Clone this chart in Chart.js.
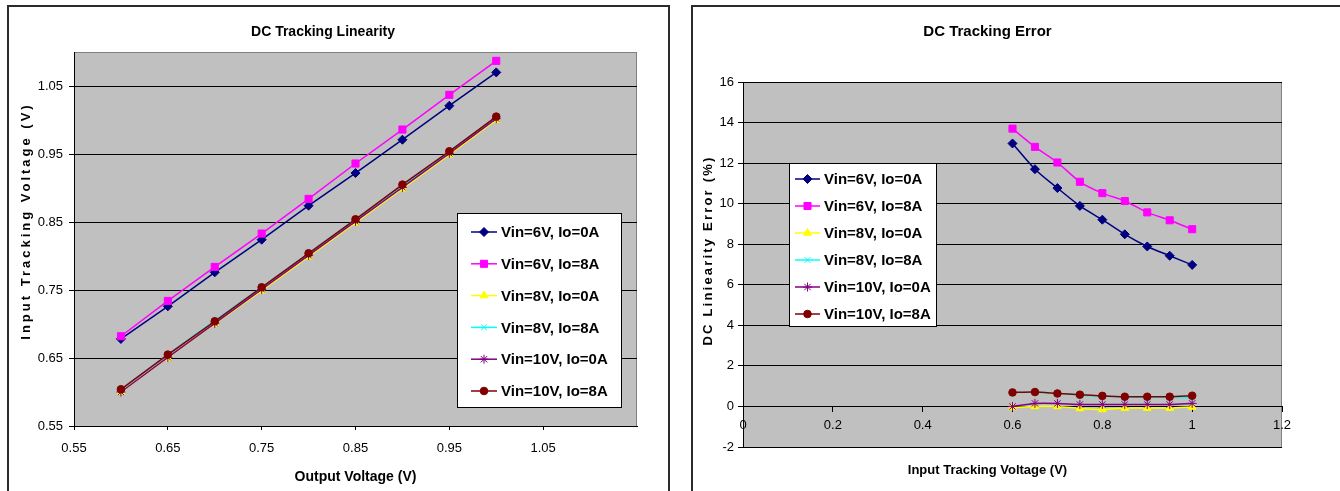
<!DOCTYPE html>
<html lang="en">
<head>
  <meta charset="UTF-8" />
  <title>DC Tracking</title>
  <style>
    body {
      margin: 0;
      background: #fff;
      width: 1340px;
      height: 491px;
      overflow: hidden;
      position: relative;
      font-family: "Liberation Sans", Arial, sans-serif;
    }
    .frame {
      position: absolute;
      border: 2px solid #2b2b2b;
      box-sizing: border-box;
    }
    #frameL { left: 7px; top: 5px; width: 663px; height: 520px; }
    #frameR { left: 691px; top: 5px; width: 700px; height: 520px; }
    canvas { position: absolute; }
    #linChart { left: 9px; top: 7px; }
    #errChart { left: 693px; top: 7px; }
  </style>
</head>
<body>
  <div class="frame" id="frameL"></div>
  <div class="frame" id="frameR"></div>
  <canvas id="linChart" width="658" height="484"></canvas>
  <canvas id="errChart" width="647" height="484"></canvas>

  <script src="https://cdn.jsdelivr.net/npm/chart.js"></script>
  <script>
    // data
    const trackV = [0.6, 0.65, 0.7, 0.75, 0.8, 0.85, 0.9, 0.95, 1.0];
    const seriesNames = ['Vin=6V, Io=0A', 'Vin=6V, Io=8A', 'Vin=8V, Io=0A',
                         'Vin=8V, Io=8A', 'Vin=10V, Io=0A', 'Vin=10V, Io=8A'];

    // DC Tracking Linearity - input tracking voltage (V)
    const lin6V0A  = [0.678, 0.726, 0.776, 0.824, 0.874, 0.922, 0.971, 1.021, 1.070];
    const lin6V8A  = [0.682, 0.734, 0.784, 0.833, 0.884, 0.936, 0.986, 1.037, 1.087];
    const lin8V0A  = [0.600, 0.650, 0.700, 0.749, 0.799, 0.849, 0.899, 0.949, 1.000];
    const lin8V8A  = [0.604, 0.655, 0.705, 0.754, 0.804, 0.854, 0.904, 0.954, 1.004];
    const lin10V0A = [0.600, 0.651, 0.701, 0.751, 0.801, 0.851, 0.901, 0.951, 1.002];
    const lin10V8A = [0.604, 0.655, 0.704, 0.754, 0.804, 0.854, 0.905, 0.954, 1.005];

    // DC Tracking Error (%)
    const err6V0A  = [12.97, 11.70, 10.77, 9.89, 9.21, 8.49, 7.89, 7.43, 6.98];
    const err6V8A  = [13.70, 12.80, 12.03, 11.08, 10.52, 10.13, 9.57, 9.18, 8.74];
    const err8V0A  = [-0.05, 0.0, 0.0, -0.1, -0.15, -0.08, -0.08, -0.08, -0.03];
    const err8V8A  = [0.70, 0.70, 0.65, 0.55, 0.50, 0.45, 0.45, 0.45, 0.43];
    const err10V0A = [0.0, 0.15, 0.15, 0.1, 0.1, 0.1, 0.1, 0.1, 0.15];
    const err10V8A = [0.69, 0.71, 0.64, 0.58, 0.52, 0.48, 0.48, 0.48, 0.53];

    const linYTicks = [0.55, 0.65, 0.75, 0.85, 0.95, 1.05];
    const linXTicks = [0.55, 0.65, 0.75, 0.85, 0.95, 1.05];
    const errYTicks = [-2, 0, 2, 4, 6, 8, 10, 12, 14, 16];
    const errXTicks = [0, 0.2, 0.4, 0.6, 0.8, 1, 1.2];

    const seriesStyle = [
      { color: '#000080', marker: 'rectRot',  r: 4.5 },
      { color: '#FF00FF', marker: 'rect',     r: 5 },
      { color: '#FFFF00', marker: 'triangle', r: 4.5 },
      { color: '#00FFFF', marker: 'crossRot', r: 4 },
      { color: '#800080', marker: 'star',     r: 4.5 },
      { color: '#800000', marker: 'circle',   r: 3.8 }
    ];

    Chart.defaults.font.family = '"Liberation Sans", Arial, sans-serif';
    Chart.defaults.color = '#000';

    function makeSets(series, tension) {
      return series.map((arr, i) => ({
        label: seriesNames[i],
        data: arr.map((v, k) => ({ x: trackV[k], y: v })),
        borderColor: seriesStyle[i].color,
        backgroundColor: seriesStyle[i].color,
        pointBackgroundColor: seriesStyle[i].color,
        pointBorderColor: seriesStyle[i].color,
        pointStyle: seriesStyle[i].marker,
        pointRadius: seriesStyle[i].r,
        pointBorderWidth: 1,
        borderWidth: 1.5,
        tension: tension,
        order: series.length - i
      }));
    }

    // grey plot area like the spreadsheet chart
    const plotBg = {
      id: 'plotBg',
      beforeDraw(chart) {
        const a = chart.chartArea, ctx = chart.ctx;
        ctx.save();
        ctx.fillStyle = '#C0C0C0';
        ctx.fillRect(a.left, a.top, a.right - a.left, a.bottom - a.top);
        ctx.strokeStyle = '#808080';
        ctx.lineWidth = 1;
        ctx.strokeRect(a.left + 0.5, a.top + 0.5, a.right - a.left - 1, a.bottom - a.top);
        ctx.restore();
      }
    };

    // legend box sitting inside the plot
    const boxLegend = {
      id: 'boxLegend',
      afterDraw(chart, args, o) {
        const ctx = chart.ctx;
        ctx.save();
        ctx.fillStyle = '#fff';
        ctx.fillRect(o.x, o.y, o.w, o.h);
        ctx.strokeStyle = '#000';
        ctx.lineWidth = 1;
        ctx.strokeRect(o.x + 0.5, o.y + 0.5, o.w, o.h);
        ctx.font = 'bold 15px "Liberation Sans", Arial, sans-serif';
        ctx.textBaseline = 'middle';
        chart.data.datasets.forEach((ds, i) => {
          const y = o.row0 + i * o.step;
          ctx.strokeStyle = ds.borderColor;
          ctx.lineWidth = ds.borderWidth;
          ctx.beginPath();
          ctx.moveTo(o.lx1, y);
          ctx.lineTo(o.lx2, y);
          ctx.stroke();
          ctx.fillStyle = ds.pointBackgroundColor;
          ctx.strokeStyle = ds.pointBorderColor;
          ctx.lineWidth = 1;
          Chart.helpers.drawPoint(ctx, { pointStyle: ds.pointStyle, radius: ds.pointRadius, rotation: 0, borderWidth: 1 }, (o.lx1 + o.lx2) / 2, y);
          ctx.fillStyle = '#000';
          ctx.fillText(ds.label, o.tx, y + 1);
        });
        ctx.restore();
      }
    };

    // the y titles are letter spaced and sit a bit above the middle in the original
    const spacedTitle = {
      id: 'spacedTitle',
      afterLayout(chart, args, o) {
        const s = chart.scales.y;
        if (s._spaced) return;
        const orig = s.drawTitle;
        s.drawTitle = function () {
          this.ctx.save();
          this.ctx.letterSpacing = o.spacing;
          this.ctx.translate(0, o.shift);
          orig.call(this);
          this.ctx.restore();
        };
        s._spaced = true;
      }
    };

    new Chart(document.getElementById('linChart'), {
      type: 'line',
      data: { datasets: makeSets([lin6V0A, lin6V8A, lin8V0A, lin8V8A, lin10V0A, lin10V8A], 0) },
      plugins: [plotBg, boxLegend, spacedTitle],
      options: {
        responsive: false,
        animation: false,
        layout: { padding: { left: 0, right: 30, top: 0, bottom: 0 } },
        plugins: {
          legend: { display: false },
          tooltip: { enabled: false },
          title: {
            display: true, text: 'DC Tracking Linearity',
            font: { size: 14, weight: 'bold' }, color: '#000',
            padding: { top: 16.6, bottom: 11.6 }
          },
          boxLegend: { x: 448, y: 206, w: 164, h: 194, row0: 225, step: 31.8, lx1: 462, lx2: 488, tx: 492 },
          spacedTitle: { spacing: '3px', shift: -18 }
        },
        scales: {
          x: {
            type: 'linear', min: 0.55, max: 1.15,
            afterFit: s => { s.height = 65; },
            afterBuildTicks: s => { s.ticks = linXTicks.map(v => ({ value: v })); },
            ticks: { callback: v => v.toFixed(2), padding: 11, maxRotation: 0, autoSkip: false, font: { size: 13 }, color: '#000' },
            grid: { drawOnChartArea: false, color: '#000', tickLength: 4 },
            border: { color: '#000', width: 1 },
            title: { display: true, text: 'Output Voltage (V)', font: { size: 14, weight: 'bold' }, color: '#000', padding: { top: 0, bottom: 5.6 } }
          },
          y: {
            type: 'linear', min: 0.55, max: 1.1,
            afterFit: s => { s.width = 65; },
            afterBuildTicks: s => { s.ticks = linYTicks.map(v => ({ value: v })); },
            ticks: { callback: v => v.toFixed(2), padding: 6, autoSkip: false, font: { size: 13 }, color: '#000' },
            grid: { color: '#000', lineWidth: 1, tickLength: 5 },
            border: { color: '#000', width: 1 },
            title: { display: true, text: 'Input Tracking Voltage (V)', font: { size: 13, weight: 'bold' }, color: '#000', padding: { top: 10, bottom: 0 } }
          }
        }
      }
    });

    new Chart(document.getElementById('errChart'), {
      type: 'line',
      data: { datasets: makeSets([err6V0A, err6V8A, err8V0A, err8V8A, err10V0A, err10V8A], 0.25) },
      plugins: [plotBg, boxLegend, spacedTitle],
      options: {
        responsive: false,
        animation: false,
        layout: { padding: { left: 0, right: 58, top: 0, bottom: 0 } },
        plugins: {
          legend: { display: false },
          tooltip: { enabled: false },
          title: {
            display: true, text: 'DC Tracking Error',
            font: { size: 15, weight: 'bold' }, color: '#000',
            padding: { top: 16, bottom: 41 }
          },
          subtitle: {
            display: true, position: 'bottom', text: 'Input Tracking Voltage (V)',
            font: { size: 13, weight: 'bold' }, color: '#000',
            padding: { top: 15.2, bottom: 13.2 }
          },
          boxLegend: { x: 96, y: 156, w: 147, h: 163, row0: 172, step: 27, lx1: 102, lx2: 127, tx: 131 },
          spacedTitle: { spacing: '2.2px', shift: -14 }
        },
        scales: {
          x: {
            type: 'linear', position: { y: 0 }, min: 0, max: 1.2,
            afterBuildTicks: s => { s.ticks = errXTicks.map(v => ({ value: v })); },
            ticks: { callback: v => String(v), padding: 6, maxRotation: 0, autoSkip: false, font: { size: 13 }, color: '#000' },
            grid: { drawOnChartArea: false, color: '#000', tickLength: 5 },
            border: { color: '#000', width: 1 }
          },
          y: {
            type: 'linear', min: -2, max: 16,
            afterFit: s => { s.width = 50; },
            afterBuildTicks: s => { s.ticks = errYTicks.map(v => ({ value: v })); },
            ticks: { callback: v => String(v), padding: 4, autoSkip: false, font: { size: 13 }, color: '#000' },
            grid: { color: '#000', lineWidth: 1, tickLength: 5 },
            border: { color: '#000', width: 1 },
            title: { display: true, text: 'DC Liniearity Error (%)', font: { size: 13, weight: 'bold' }, color: '#000', padding: { top: 8, bottom: 0 } }
          }
        }
      }
    });
  </script>
</body>
</html>
